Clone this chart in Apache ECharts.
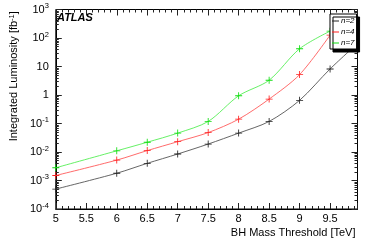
<!DOCTYPE html>
<html><head><meta charset="utf-8">
<script src="https://cdn.jsdelivr.net/npm/echarts@6/dist/echarts.min.js"></script>
<style>html,body{margin:0;padding:0;background:#fff}#c{width:375px;height:242px}</style>
</head><body><div id="c"></div>
<script>
// ---- data ----
const massThreshold = [5, 6, 6.5, 7, 7.5, 8, 8.5, 9, 9.5];
const massThresholdN2 = [5, 6, 6.5, 7, 7.5, 8, 8.5, 9, 9.5, 10];
const lumiN2 = [5.0e-4, 1.8e-3, 4.0e-3, 8.5e-3, 0.019, 0.046, 0.118, 0.65, 8.2, 80];
const lumiN4 = [1.5e-3, 5.2e-3, 0.0112, 0.023, 0.048, 0.142, 0.72, 5.2, 126];
const lumiN7 = [2.8e-3, 0.011, 0.022, 0.046, 0.118, 0.94, 3.3, 42, 174];
const seriesNames = ['n=2', 'n=4', 'n=7'];
const yTickExponents = [-4, -3, -2, -1, 0, 1, 2, 3];
const xTickLabels = ['5', '5.5', '6', '6.5', '7', '7.5', '8', '8.5', '9', '9.5'];

const yMinorTicks = [];
for (let e = -4; e < 3; e++) for (let k = 2; k <= 9; k++) yMinorTicks.push(k * Math.pow(10, e));
const yMajorTicks = yTickExponents.map(e => Math.pow(10, e));

const FONT = 'Liberation Sans';
const TICK = '#222';
const plus = 'path://M-0.12,-1L0.12,-1L0.12,-0.12L1,-0.12L1,0.12L0.12,0.12L0.12,1L-0.12,1L-0.12,0.12L-1,0.12L-1,-0.12L-0.12,-0.12Z';

function yLabel(v) {
  const e = Math.round(Math.log10(v));
  if (e === 0) return '{b|1}';
  if (e === 1) return '{b|10}';
  return '{b|10}{s|' + e + '}';
}

const chart = echarts.init(document.getElementById('c'), null, {renderer: 'canvas'});
const yBase = {type: 'log', min: 1e-4, max: 1e3, logBase: 10};
const option = {
  animation: false,
  backgroundColor: '#fff',
  textStyle: {fontFamily: FONT},
  title: {text: 'ATLAS', left: 57, top: 12, padding: 0,
    textStyle: {fontFamily: FONT, fontSize: 11, fontWeight: 'bold', fontStyle: 'italic', color: '#000'}},
  grid: {left: 46, right: 17.5, top: 9.5, bottom: 33, show: true, borderColor: '#000', borderWidth: 1, backgroundColor: 'transparent'},
  legend: {
    orient: 'vertical', left: 330, top: 14, data: seriesNames,
    backgroundColor: '#fff', borderColor: '#000', borderWidth: 1,
    shadowColor: '#000', shadowBlur: 0, shadowOffsetX: 3, shadowOffsetY: 3,
    padding: [3, 2, 2, 2], itemGap: 3, itemWidth: 7, itemHeight: 1, icon: 'rect',
    textStyle: {fontFamily: FONT, fontSize: 8, fontStyle: 'italic', color: '#000', padding: [0, 0, 0, -3]},
    selectedMode: false, z: 10
  },
  xAxis: [{
    type: 'value', min: 5, max: 9.95, interval: 0.5, position: 'bottom',
    axisLine: {show: true, lineStyle: {color: '#000', width: 1}},
    axisTick: {show: true, inside: true, length: 6, lineStyle: {color: TICK, width: 1}},
    minorTick: {show: true, splitNumber: 5, length: 3, lineStyle: {color: TICK, width: 1}},
    splitLine: {show: false},
    axisLabel: {showMaxLabel: false, margin: 4, fontSize: 11, color: '#000', fontFamily: FONT,
      formatter: v => { const i = Math.round((v - 5) / 0.5); return (Math.abs(v - (5 + i * 0.5)) < 1e-6 && xTickLabels[i]) ? xTickLabels[i] : ''; }},
    name: 'BH Mass Threshold [TeV]', nameLocation: 'end', nameGap: -2,
    nameTextStyle: {fontFamily: FONT, fontSize: 11, color: '#000', align: 'right', verticalAlign: 'top', padding: [18, 0, 0, 0]}
  }, {
    type: 'value', min: 5, max: 9.95, interval: 0.5, position: 'top',
    axisLine: {show: false},
    axisTick: {show: true, inside: true, length: 6, lineStyle: {color: TICK, width: 1}},
    minorTick: {show: true, splitNumber: 5, length: 3, lineStyle: {color: TICK, width: 1}},
    splitLine: {show: false}, axisLabel: {show: false}
  }],
  yAxis: [
    Object.assign({}, yBase, {
      position: 'left',
      axisLine: {show: true, lineStyle: {color: '#000', width: 1}},
      axisTick: {show: true, inside: true, length: 6, customValues: yMajorTicks, lineStyle: {color: TICK, width: 1}},
      splitLine: {show: false},
      axisLabel: {margin: 7, color: '#000', fontFamily: FONT, customValues: yMajorTicks, formatter: yLabel,
        rich: {b: {fontSize: 11, fontFamily: FONT, color: '#000', lineHeight: 15},
               s: {fontSize: 7.5, fontFamily: FONT, color: '#000', verticalAlign: 'top', lineHeight: 9}}},
      name: 'Integrated Luminosity [fb{s|-1}]', nameLocation: 'middle', nameRotate: 90, nameGap: 33,
      nameTextStyle: {fontFamily: FONT, fontSize: 11, color: '#000', padding: [0, 0, 0, 66],
        rich: {s: {fontSize: 7.5, fontFamily: FONT, color: '#000', verticalAlign: 'top', lineHeight: 9}}}
    }),
    Object.assign({}, yBase, {
      position: 'left', axisLine: {show: false},
      axisTick: {show: true, inside: true, length: 3, customValues: yMinorTicks, lineStyle: {color: TICK, width: 1}},
      splitLine: {show: false}, axisLabel: {show: false}
    }),
    Object.assign({}, yBase, {
      position: 'right', axisLine: {show: false},
      axisTick: {show: true, inside: true, length: 6, customValues: yMajorTicks, lineStyle: {color: TICK, width: 1}},
      splitLine: {show: false}, axisLabel: {show: false}
    }),
    Object.assign({}, yBase, {
      position: 'right', axisLine: {show: false},
      axisTick: {show: true, inside: true, length: 3, customValues: yMinorTicks, lineStyle: {color: TICK, width: 1}},
      splitLine: {show: false}, axisLabel: {show: false}
    })
  ],
  series: [
    {name: seriesNames[0], type: 'line', smooth: 0.3, data: massThresholdN2.map((x, i) => [x, lumiN2[i]]),
     color: '#3a3a3a', lineStyle: {width: 0.9, color: '#555'}, symbol: plus, symbolSize: 7, itemStyle: {color: '#222'}, clip: true, z: 3},
    {name: seriesNames[1], type: 'line', smooth: 0.3, data: massThreshold.map((x, i) => [x, lumiN4[i]]),
     color: '#ff3030', lineStyle: {width: 0.9, color: '#ff5a5a'}, symbol: plus, symbolSize: 7, itemStyle: {color: '#ff2020'}, clip: true, z: 3},
    {name: seriesNames[2], type: 'line', smooth: 0.3, data: massThreshold.map((x, i) => [x, lumiN7[i]]),
     color: '#22ee22', lineStyle: {width: 0.9, color: '#55ee55'}, symbol: plus, symbolSize: 7, itemStyle: {color: '#11dd11'}, clip: true, z: 3}
  ]
};
chart.setOption(option);
</script></body></html>
